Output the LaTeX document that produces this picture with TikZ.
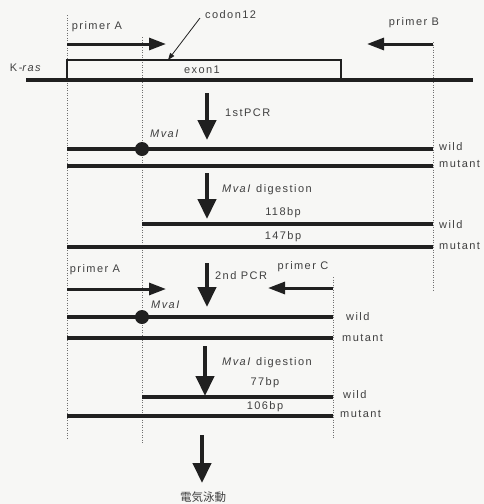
\documentclass[tikz,border=0pt]{standalone}
\usepackage{fontspec}
\setmainfont[LetterSpace=13]{Liberation Sans}
\newfontfamily\cjk{Noto Sans CJK JP}
\usetikzlibrary{arrows.meta}
\definecolor{ink}{HTML}{202020}
\definecolor{txt}{HTML}{404040}
\definecolor{paper}{HTML}{F7F7F5}
\definecolor{guidegray}{HTML}{707070}

\begin{document}
\begin{tikzpicture}[x=1pt,y=-1pt,
  strand/.style={line width=3.6pt, draw=ink},
  guide/.style={draw=guidegray, line width=1pt, dash pattern=on 1pt off 1.5pt},
  stepdown/.style={draw=ink, line width=4.4pt, -{Triangle[length=20pt,width=18pt]}},
  primerarrow/.style={draw=ink, line width=3pt, -{Triangle[length=17pt,width=12pt]}},
  lbl/.style={font=\fontsize{11}{13}\selectfont, text=txt, inner sep=0pt},
  site/.style={circle, fill=ink, minimum size=14pt, inner sep=0pt}
]
\fill[paper] (0,0) rectangle (484,504);
\useasboundingbox (0,0) rectangle (484,504);

% dotted guide lines
\draw[guide] (67,15) -- (67,440);
\draw[guide] (142,37) -- (142,443);
\draw[guide] (433,42) -- (433,290);
\draw[guide] (333,277) -- (333,438);

% K-ras gene with exon1
\coordinate (kL) at (26,80);
\coordinate (kR) at (473,80);
\draw[strand] (kL) -- (kR);
\draw[ink, line width=1.2pt] (67,80) -- (67,60) -- (341,60) -- (341,80);
\node[lbl] (kras) at (26,68) {K-\textit{ras}};
\node[lbl] (exon) at (202,70) {exon1};

% primers for the 1st PCR
\node[lbl] (pA1) at (97,27) {primer A};
\coordinate (pA1s) at (67,44);
\coordinate (pA1e) at (166,44);
\draw[primerarrow] (pA1s) -- (pA1e);
\node[lbl] (pB) at (414,23) {primer B};
\coordinate (pBs) at (433,44);
\coordinate (pBe) at (367,44);
\draw[primerarrow] (pBs) -- (pBe);

% codon 12 pointer
\node[lbl, anchor=west] (codon) at (205,15) {codon12};
\coordinate (codonTip) at (168,60);
\draw[ink, line width=0.8pt, -{Triangle[length=7pt,width=5pt]}] (200,18) -- (codonTip);

% 1st PCR
\coordinate (s1t) at (207,93);
\coordinate (s1b) at (207,140);
\draw[stepdown] (s1t) -- (s1b);
\node[lbl, anchor=west] (pcr1) at (225,113) {1stPCR};

\coordinate (w1L) at (67,149);  \coordinate (w1R) at (433,149);
\coordinate (m1L) at (67,166);  \coordinate (m1R) at (433,166);
\draw[strand] (w1L) -- (w1R);
\draw[strand] (m1L) -- (m1R);
\node[site] (dot1) at (142,149) {};
\node[lbl] (mva1) at (165,134) {\textit{MvaI}};
\node[lbl, anchor=west] (wild1) at (439,147) {wild};
\node[lbl, anchor=west] (mut1) at (439,164) {mutant};

% MvaI digestion of the 1st product
\coordinate (s2t) at (207,173);
\coordinate (s2b) at (207,219);
\draw[stepdown] (s2t) -- (s2b);
\node[lbl, anchor=west] (dig1) at (222,190) {\textit{MvaI} digestion};

\node[lbl] (bp118) at (283,213) {118bp};
\node[lbl] (bp147) at (283,237) {147bp};
\coordinate (w2L) at (142,224);  \coordinate (w2R) at (433,224);
\coordinate (m2L) at (67,247);   \coordinate (m2R) at (433,247);
\draw[strand] (w2L) -- (w2R);
\draw[strand] (m2L) -- (m2R);
\node[lbl, anchor=west] (wild2) at (439,225) {wild};
\node[lbl, anchor=west] (mut2) at (439,246) {mutant};

% 2nd PCR
\node[lbl] (pA2) at (95,270) {primer A};
\coordinate (pA2s) at (67,289);
\coordinate (pA2e) at (166,289);
\draw[primerarrow] (pA2s) -- (pA2e);
\node[lbl] (pC) at (303,267) {primer C};
\coordinate (pCs) at (333,288);
\coordinate (pCe) at (268,288);
\draw[primerarrow] (pCs) -- (pCe);

\coordinate (s3t) at (207,263);
\coordinate (s3b) at (207,307);
\draw[stepdown] (s3t) -- (s3b);
\node[lbl, anchor=west] (pcr2) at (215,276) {2nd PCR};

\coordinate (w3L) at (67,317);  \coordinate (w3R) at (333,317);
\coordinate (m3L) at (67,338);  \coordinate (m3R) at (333,338);
\draw[strand] (w3L) -- (w3R);
\draw[strand] (m3L) -- (m3R);
\node[site] (dot2) at (142,317) {};
\node[lbl] (mva2) at (166,305) {\textit{MvaI}};
\node[lbl, anchor=west] (wild3) at (346,317) {wild};
\node[lbl, anchor=west] (mut3) at (342,338) {mutant};

% MvaI digestion of the 2nd product
\coordinate (s4t) at (205,346);
\coordinate (s4b) at (205,396);
\draw[stepdown] (s4t) -- (s4b);
\node[lbl, anchor=west] (dig2) at (222,363) {\textit{MvaI} digestion};

\node[lbl] (bp77) at (265,383) {77bp};
\node[lbl] (bp106) at (265,407) {106bp};
\coordinate (w4L) at (142,397);  \coordinate (w4R) at (333,397);
\coordinate (m4L) at (67,416);   \coordinate (m4R) at (333,416);
\draw[strand] (w4L) -- (w4R);
\draw[strand] (m4L) -- (m4R);
\node[lbl, anchor=west] (wild4) at (343,395) {wild};
\node[lbl, anchor=west] (mut4) at (340,414) {mutant};

% electrophoresis
\coordinate (s5t) at (202,435);
\coordinate (s5b) at (202,483);
\draw[stepdown] (s5t) -- (s5b);
\node[lbl, font=\cjk\fontsize{11.5}{13}\selectfont] (ep) at (203,497) {電気泳動};
\end{tikzpicture}
\end{document}
